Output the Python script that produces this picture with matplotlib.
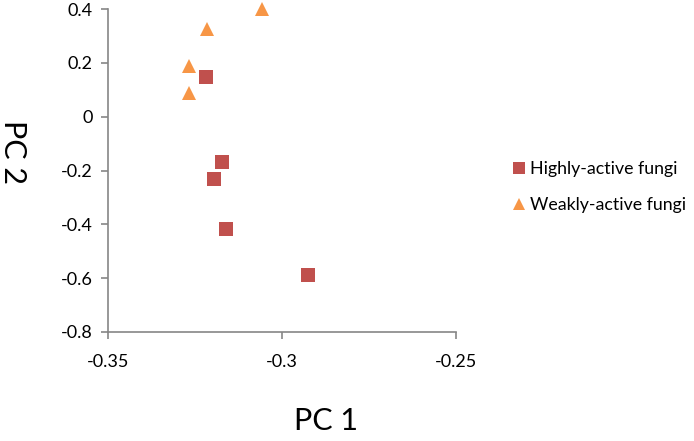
import matplotlib.pyplot as plt
from matplotlib.lines import Line2D

plt.rcParams['font.family'] = ['Lato', 'DejaVu Sans']

# PC scores
high_pc1 = [-0.3219, -0.3172, -0.3196, -0.3160, -0.2926]
high_pc2 = [0.148, -0.170, -0.233, -0.417, -0.588]
weak_pc1 = [-0.3057, -0.3214, -0.3266, -0.3266]
weak_pc2 = [0.400, 0.326, 0.189, 0.088]

xticks = [-0.35, -0.3, -0.25]
xticklabels = ['-0.35', '-0.3', '-0.25']
yticks = [-0.8, -0.6, -0.4, -0.2, 0, 0.2, 0.4]
yticklabels = ['-0.8', '-0.6', '-0.4', '-0.2', '0', '0.2', '0.4']

red = '#C0504D'
orange = '#F79646'
grey = '#868686'

fig = plt.figure(figsize=(6.94, 4.41), dpi=100)
ax = fig.add_axes([107.7 / 694, 1 - 332 / 441, (456 - 107.7) / 694, (332 - 9) / 441])

ax.plot(high_pc1, high_pc2, linestyle='none', marker='s', markersize=10,
        color=red, markeredgewidth=0, clip_on=False)
ax.plot(weak_pc1, weak_pc2, linestyle='none', marker='^', markersize=10,
        color=orange, markeredgewidth=0, clip_on=False)

ax.set_xlim(-0.35, -0.25)
ax.set_ylim(-0.8, 0.4)
ax.set_xticks(xticks)
ax.set_xticklabels(xticklabels)
ax.set_yticks(yticks)
ax.set_yticklabels(yticklabels)
ax.tick_params(axis='both', colors=grey, labelcolor='black', labelsize=13,
               length=5, width=1.2)
ax.tick_params(axis='x', pad=11)
ax.tick_params(axis='y', pad=6)
for s in ['top', 'right']:
    ax.spines[s].set_visible(False)
for s in ['left', 'bottom']:
    ax.spines[s].set_color(grey)
    ax.spines[s].set_linewidth(1.2)

fig.text(326 / 694, 1 - 421 / 441, 'PC 1', fontsize=22, ha='center', va='center')
fig.text(13 / 694, 1 - 152 / 441, 'PC 2', fontsize=22, ha='center', va='center',
         rotation=270)

handles = [
    Line2D([], [], linestyle='none', marker='s', markersize=8, color=red, markeredgewidth=0),
    Line2D([], [], linestyle='none', marker='^', markersize=8, color=orange, markeredgewidth=0),
]
fig.legend(handles, ['Highly-active fungi', 'Weakly-active fungi'],
           loc='upper left', bbox_to_anchor=(505 / 694, 1 - 152 / 441),
           frameon=False, fontsize=12.8, handlelength=0.6, handletextpad=0.3,
           labelspacing=1.15, borderpad=0)

fig.savefig('out.png', dpi=100)
